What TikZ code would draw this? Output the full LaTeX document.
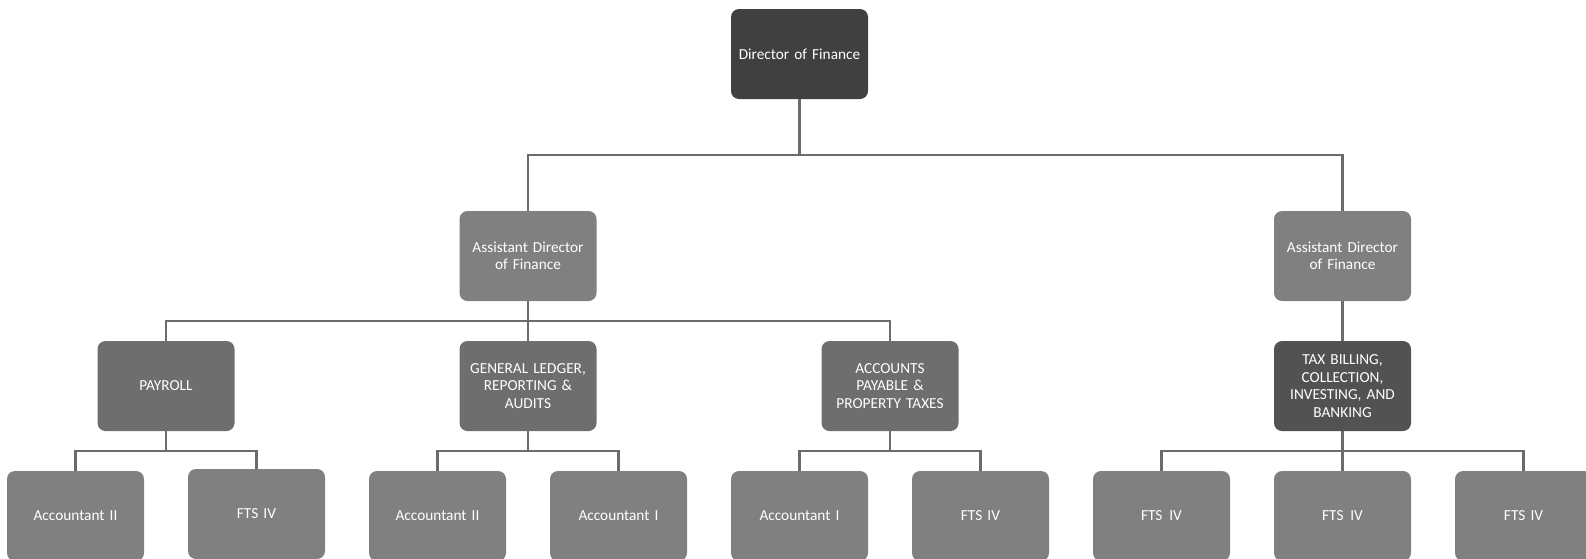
\documentclass[tikz,border=0pt]{standalone}
\usepackage{fontspec}
\setmainfont{Carlito}
\begin{document}
\begin{tikzpicture}[x=1pt,y=-1pt,
  box/.style={rounded corners=8pt, minimum width=137pt, minimum height=90pt,
    text width=128pt, align=center, inner sep=0pt, text=white,
    font=\fontsize{15.3}{17.5}\selectfont},
  lvtop/.style={box, fill=black!75},
  lvasst/.style={box, fill=black!50},
  lvdept/.style={box, fill=black!57},
  lvtax/.style={box, fill=black!68},
  lvstaff/.style={box, fill=black!50},
  link/.style={draw=black!58, line width=2.2pt}]
\useasboundingbox (0,0) rectangle (1586,558);
\clip (0,0) rectangle (1586,558);

% director
\node[lvtop] (dir) at (799.5,54) {Director of Finance};

% assistant directors
\node[lvasst] (asstL) at (528,256) {Assistant Director\\of Finance};
\node[lvasst] (asstR) at (1342.5,256) {Assistant Director\\of Finance};

% divisions
\node[lvdept] (pay) at (166,386) {PAYROLL};
\node[lvdept] (gl) at (528,386) {GENERAL LEDGER,\\REPORTING \&\\AUDITS};
\node[lvdept] (ap) at (890,386) {ACCOUNTS\\PAYABLE \&\\PROPERTY TAXES};
\node[lvtax] (tax) at (1342.5,386) {TAX BILLING,\\COLLECTION,\\INVESTING, AND\\BANKING};

% staff positions
\node[lvstaff] (s1) at (75.5,516) {Accountant II};
\node[lvstaff] (s2) at (256.5,514) {FTS IV};
\node[lvstaff] (s3) at (437.5,516) {Accountant II};
\node[lvstaff] (s4) at (618.5,516) {Accountant I};
\node[lvstaff] (s5) at (799.5,516) {Accountant I};
\node[lvstaff] (s6) at (980.5,516) {FTS IV};
\node[lvstaff] (s7) at (1161.5,516) {FTS\kern0.45em IV};
\node[lvstaff] (s8) at (1342.5,516) {FTS\kern0.45em IV};
\node[lvstaff] (s9) at (1523.5,516) {FTS IV};

% connectors
\draw[link] (dir.south) -- ++(0,56) -| (asstL.north);
\draw[link] (dir.south) -- ++(0,56) -| (asstR.north);

\draw[link] (asstL.south) -- ++(0,20) -| (pay.north);
\draw[link] (asstL.south) -- (gl.north);
\draw[link] (asstL.south) -- ++(0,20) -| (ap.north);
\draw[link] (asstR.south) -- (tax.north);

\draw[link] (pay.south) -- ++(0,20) -| (s1.north);
\draw[link] (pay.south) -- ++(0,20) -| (s2.north);
\draw[link] (gl.south) -- ++(0,20) -| (s3.north);
\draw[link] (gl.south) -- ++(0,20) -| (s4.north);
\draw[link] (ap.south) -- ++(0,20) -| (s5.north);
\draw[link] (ap.south) -- ++(0,20) -| (s6.north);
\draw[link] (tax.south) -- ++(0,20) -| (s7.north);
\draw[link] (tax.south) -- (s8.north);
\draw[link] (tax.south) -- ++(0,20) -| (s9.north);
\end{tikzpicture}
\end{document}
